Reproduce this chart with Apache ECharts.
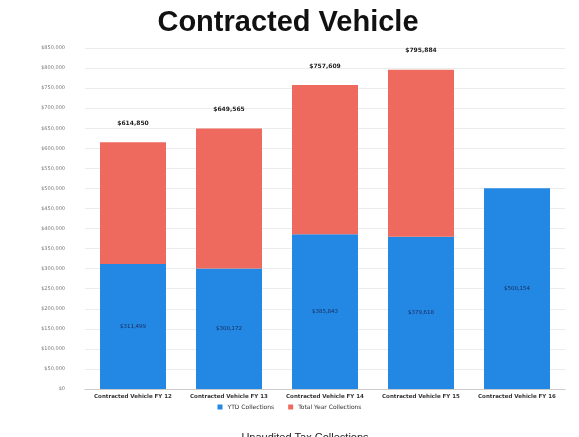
<!DOCTYPE html>
<html>
<head>
<meta charset="utf-8">
<script src="https://cdn.jsdelivr.net/npm/echarts@6/dist/echarts.min.js"></script>
<style>html,body{margin:0;padding:0;background:#fff}#c{width:579px;height:437px}</style>
</head>
<body>
<div id="c"></div>
<script>
const categories = ['Contracted Vehicle FY 12','Contracted Vehicle FY 13','Contracted Vehicle FY 14','Contracted Vehicle FY 15','Contracted Vehicle FY 16'];
const ytdCollections = [311499, 300172, 385843, 379618, 500154];
const totalYearCollections = [614850, 649565, 757609, 795884, null];
const remainder = totalYearCollections.map((t, i) => t == null ? null : t - ytdCollections[i]);
const fmt = v => '$' + Math.round(v).toLocaleString('en-US');

const chart = echarts.init(document.getElementById('c'));
chart.setOption({
  animation: false,
  title: [
    {text: 'Contracted Vehicle', left: 283, top: 3, textAlign: 'center',
     textStyle: {fontFamily: 'Liberation Sans', fontWeight: 'bold', fontSize: 29, color: '#111'}},
    {text: 'Unaudited Tax Collections', left: 300, top: 427, textAlign: 'center',
     textStyle: {fontFamily: 'Liberation Sans', fontWeight: 'normal', fontSize: 11, color: '#222'}}
  ],
  legend: {
    bottom: 22, left: 'center', itemWidth: 5, itemHeight: 5, itemGap: 14,
    icon: 'rect',
    textStyle: {fontFamily: 'DejaVu Sans', fontSize: 6, color: '#333'},
    data: ['YTD Collections', 'Total Year Collections']
  },
  grid: {left: 85, right: 14, top: 48, bottom: 48},
  xAxis: {
    type: 'category', data: categories,
    axisLine: {lineStyle: {color: '#ccc'}}, axisTick: {show: false},
    axisLabel: {interval: 0, fontFamily: 'DejaVu Sans', fontSize: 5.5, fontWeight: 'bold', color: '#333', margin: 5}
  },
  yAxis: {
    type: 'value', min: 0, max: 850000, interval: 50000,
    axisLine: {show: false}, axisTick: {show: false},
    splitLine: {lineStyle: {color: '#ececec'}},
    axisLabel: {formatter: fmt, fontFamily: 'DejaVu Sans', fontSize: 5, color: '#777', margin: 20}
  },
  series: [
    {name: 'YTD Collections', type: 'bar', stack: 's', data: ytdCollections, barWidth: 66,
     itemStyle: {color: '#2388e4'},
     label: {show: true, position: 'inside', formatter: p => fmt(p.value),
             fontFamily: 'DejaVu Sans', fontSize: 5.5, color: '#1a2a5a'}},
    {name: 'Total Year Collections', type: 'bar', stack: 's', data: remainder, barWidth: 66,
     itemStyle: {color: '#ee6a5e'},
     label: {show: true, position: 'top', distance: 16,
             formatter: p => fmt(totalYearCollections[p.dataIndex]),
             fontFamily: 'DejaVu Sans', fontSize: 6, fontWeight: 'bold', color: '#222'}}
  ]
});
</script>
</body>
</html>
